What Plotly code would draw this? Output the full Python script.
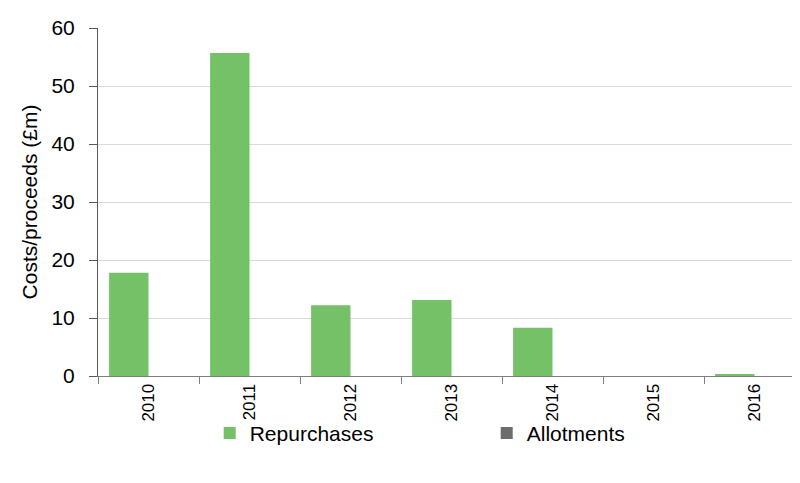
import plotly.graph_objects as go

years = ["2010", "2011", "2012", "2013", "2014", "2015", "2016"]
repurchases = [17.8, 55.7, 12.2, 13.1, 8.3, 0.0, 0.2]
allotments = [0, 0, 0, 0, 0, 0, 0]

fig = go.Figure()
fig.add_trace(go.Bar(x=years, y=repurchases, name="Repurchases",
                     marker=dict(color="#74c167", line=dict(width=0))))
fig.add_trace(go.Bar(x=years, y=allotments, name="Allotments",
                     marker=dict(color="#6d6d6d", line=dict(width=0))))

font = "Liberation Sans, Arial, sans-serif"
fig.update_layout(
    width=800, height=483,
    margin=dict(l=90, r=3, t=20, b=115, autoexpand=False),
    plot_bgcolor="white", paper_bgcolor="white",
    barmode="group", bargap=0.22, bargroupgap=0,
    font=dict(family=font, color="black"),
    showlegend=True,
    legend=dict(orientation="h", x=0.158, xanchor="left", y=-0.165, yanchor="middle",
                font=dict(size=21), entrywidth=232, itemwidth=30,
                bgcolor="rgba(0,0,0,0)", traceorder="normal"),
)
fig.update_xaxes(
    type="category", tickangle=-90, tickfont=dict(size=17),
    showline=True, linecolor="#7f7f7f", linewidth=1,
    ticks="outside", ticklen=7, tickcolor="#7f7f7f", tickson="boundaries",
    showgrid=False,
)
fig.update_yaxes(
    range=[0, 60], dtick=10, tickfont=dict(size=21), ticklabelstandoff=10,
    title=dict(text="Costs/proceeds (£m)", font=dict(size=21), standoff=8),
    showline=True, linecolor="#595959", linewidth=1,
    ticks="outside", ticklen=8, tickcolor="#595959",
    showgrid=True, gridcolor="#d9d9d9", gridwidth=1,
    zeroline=False,
)
fig.write_html("out.html")
